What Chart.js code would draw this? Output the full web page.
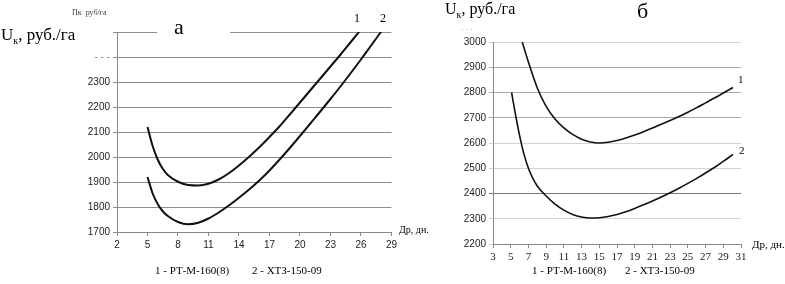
<!DOCTYPE html>
<html><head><meta charset="utf-8">
<script src="https://cdn.jsdelivr.net/npm/chart.js@4/dist/chart.umd.min.js"></script>
<style>
html,body{margin:0;padding:0;background:#fff;}
#wrap{position:relative;width:785px;height:284px;overflow:hidden;}
canvas{position:absolute;top:0;}
.t{position:absolute;font-family:'Liberation Serif','Times New Roman',serif;color:#000;white-space:nowrap;line-height:1;}
</style></head><body>
<div id="wrap">
<canvas id="ca" width="400" height="284" style="left:0;width:400px;height:284px"></canvas>
<canvas id="cb" width="385" height="284" style="left:400px;width:385px;height:284px"></canvas>
<div class="t" style="left:1px;top:26px;font-size:17px">U<sub style="font-size:10px">к</sub>, руб./га</div>
<div class="t" style="left:72px;top:9px;font-size:8px;color:#444">Пк &nbsp;руб/га</div>
<div class="t" style="left:157px;top:18px;width:73px;height:20px;background:#fff;font-size:22px;"><span style="position:absolute;left:17px;top:-2px">а</span></div>
<div class="t" style="left:354px;top:12px;font-size:12px">1</div>
<div class="t" style="left:380px;top:12px;font-size:12px">2</div>
<div class="t" style="left:399px;top:225px;font-size:10px">Др, дн.</div>
<div class="t" style="left:155px;top:265px;font-size:11px">1 - РТ-М-160(8)</div>
<div class="t" style="left:252px;top:265px;font-size:11px">2 - ХТЗ-150-09</div>

<div class="t" style="left:445px;top:1px;font-size:16px">U<sub style="font-size:10px">к</sub>, руб./га</div>
<div class="t" style="left:637px;top:0px;font-size:22px">б</div>
<div class="t" style="left:738px;top:74px;font-size:11px">1</div>
<div class="t" style="left:739px;top:145px;font-size:11px">2</div>
<div class="t" style="left:752px;top:239px;font-size:11px">Др, дн.</div>
<div class="t" style="left:532px;top:265px;font-size:11px">1 - РТ-М-160(8)</div>
<div class="t" style="left:625px;top:265px;font-size:11px">2 - ХТЗ-150-09</div>
<div class="t" style="left:461px;top:26px;font-size:8px;color:#888">· · ·</div>
</div>
<script>
// Chart а
const aX1 = [5, 5.5, 6, 6.5, 7, 8, 9, 10, 11, 12, 13, 14, 15, 16, 17, 18, 19, 20, 21, 22, 23, 24, 25, 26];
const aY1 = [2120, 2045, 1990, 1953, 1928, 1901, 1888, 1886, 1893, 1910, 1935, 1966, 2001, 2039, 2080, 2123, 2170, 2218, 2266, 2314, 2362, 2410, 2460, 2510];
const aX2 = [5, 5.5, 6, 6.5, 7, 8, 9, 10, 11, 12, 13, 14, 15, 16, 17, 18, 19, 20, 21, 22, 23, 24, 25, 26, 27, 28];
const aY2 = [1920, 1855, 1812, 1783, 1764, 1740, 1731, 1737, 1754, 1778, 1806, 1837, 1870, 1906, 1946, 1990, 2036, 2084, 2133, 2182, 2232, 2283, 2336, 2390, 2446, 2502];
const aXTicks = [2, 5, 8, 11, 14, 17, 20, 23, 26, 29];
const aYTicks = [1700, 1800, 1900, 2000, 2100, 2200, 2300, 2400, 2500];
// Chart б
const bX1 = [6.3, 7, 8, 9, 10, 11, 12, 13, 14, 15, 16, 17, 18, 19, 20, 21, 22, 23, 24, 25, 26, 27, 28, 29, 30.1];
const bY1 = [3000, 2920, 2818, 2745, 2695, 2660, 2634, 2615, 2604, 2600, 2603, 2610, 2620, 2632, 2645, 2659, 2674, 2689, 2705, 2722, 2740, 2759, 2778, 2798, 2820];
const bX2 = [5.1, 5.5, 6, 6.5, 7, 7.5, 8, 9, 10, 11, 12, 13, 14, 15, 16, 17, 18, 19, 20, 21, 22, 23, 24, 25, 26, 27, 28, 29, 30.1];
const bY2 = [2800, 2720, 2630, 2555, 2500, 2460, 2430, 2390, 2358, 2334, 2317, 2307, 2303, 2304, 2309, 2317, 2328, 2341, 2355, 2370, 2386, 2403, 2421, 2440, 2460, 2481, 2503, 2527, 2555];
const bXTicks = [3, 5, 7, 9, 11, 13, 15, 17, 19, 21, 23, 25, 27, 29, 31];
const bYTicks = [2200, 2300, 2400, 2500, 2600, 2700, 2800, 2900, 3000];

const pts = (xs, ys) => xs.map((x, i) => ({x, y: ys[i]}));
const tickFont = {family: "'Liberation Sans Narrow','Liberation Sans',Arial,sans-serif", size: 10};

function makeChart(id, cfg) {
  return new Chart(document.getElementById(id), {
    type: 'scatter',
    data: {datasets: cfg.series.map(s => ({
      data: pts(s[0], s[1]), showLine: true, borderColor: '#111', borderWidth: cfg.lw,
      pointRadius: 0, tension: 0.4, cubicInterpolationMode: 'monotone', fill: false
    }))},
    options: {
      responsive: false, animation: false,
      layout: {padding: cfg.pad},
      plugins: {legend: {display: false}, tooltip: {enabled: false}},
      scales: {
        x: {
          type: 'linear', min: cfg.xT[0], max: cfg.xT[cfg.xT.length - 1],
          afterBuildTicks: s => { s.ticks = cfg.xT.map(v => ({value: v})); },
          afterFit: s => { s.height = cfg.xH; },
          grid: {display: true, drawOnChartArea: false, drawTicks: true, tickLength: 4, color: '#888'},
          border: {display: true, color: '#888'},
          ticks: {font: cfg.xFont, color: '#222', padding: 3, maxRotation: 0, autoSkip: false}
        },
        y: {
          type: 'linear', min: cfg.yT[0], max: cfg.yT[cfg.yT.length - 1],
          afterBuildTicks: s => { s.ticks = cfg.yT.map(v => ({value: v})); },
          afterFit: s => { s.width = cfg.yW; },
          grid: {drawTicks: true, tickLength: 4, color: ctx => cfg.gridColor(ctx.tick ? ctx.tick.value : 0), lineWidth: 1},
          border: {display: true, color: '#888'},
          ticks: {font: tickFont, color: ctx => cfg.labelColor(ctx.tick.value), padding: 3, autoSkip: false,
            callback: v => cfg.label(v)}
        }
      }
    }
  });
}

makeChart('ca', {
  series: [[aX1, aY1], [aX2, aY2]], lw: 2,
  xT: aXTicks, yT: aYTicks, pad: {left: 0, right: 8, top: 32, bottom: 0}, xH: 52, yW: 117,
  xFont: tickFont,
  gridColor: v => '#8c8c8c',
  labelColor: v => v === 2400 ? '#888' : '#222',
  label: v => v === 2500 ? '' : (v === 2400 ? '- - -' : String(v))
});
makeChart('cb', {
  series: [[bX1, bY1], [bX2, bY2]], lw: 1.6,
  xT: bXTicks, yT: bYTicks, pad: {left: 0, right: 44, top: 42, bottom: 0}, xH: 40, yW: 93,
  xFont: {family: "'Liberation Serif','Times New Roman',serif", size: 11},
  gridColor: v => (v === 2400 ? '#7a7a7a' : (v === 2700 || v === 2800 || v === 2900) ? '#a8a8a8' : '#d4d4d4'),
  labelColor: v => '#222',
  label: v => String(v)
});
</script>
</body></html>
